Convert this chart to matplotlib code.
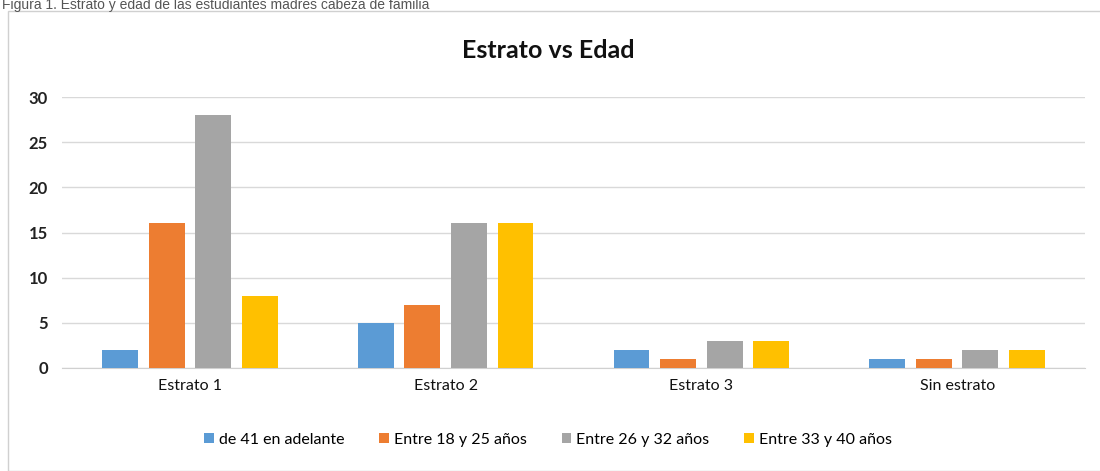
import numpy as np
import matplotlib.pyplot as plt
from matplotlib.patches import Rectangle

# Data
categories = ['Estrato 1', 'Estrato 2', 'Estrato 3', 'Sin estrato']
series_names = ['de 41 en adelante', 'Entre 18 y 25 años',
                'Entre 26 y 32 años', 'Entre 33 y 40 años']
de_41 = [2, 5, 2, 1]
entre_18_25 = [16, 7, 1, 1]
entre_26_32 = [28, 16, 3, 2]
entre_33_40 = [8, 16, 3, 2]
y_ticks = [0, 5, 10, 15, 20, 25, 30]

colors = ['#5B9BD5', '#ED7D31', '#A5A5A5', '#FFC000']
plt.rcParams['font.family'] = ['Lato', 'DejaVu Sans']

fig = plt.figure(figsize=(11, 4.71), dpi=100)
ax = fig.add_axes([62 / 1100, 1 - 368 / 471, 1023 / 1100, (368 - 97) / 471])

# Chart frame and caption
fig.patches.append(Rectangle((8 / 1100, 0), 1.1, 1 - 11 / 471, transform=fig.transFigure,
                             fill=False, edgecolor='#D0D0D0', lw=1))
fig.text(2 / 1100, 1 - 5 / 471, 'Figura 1. Estrato y edad de las estudiantes madres cabeza de familia',
         fontsize=10, color='#555555', family=['Liberation Sans', 'DejaVu Sans'],
         ha='left', va='center')

x = np.arange(len(categories))
width = 0.14
step = 0.182
all_series = [de_41, entre_18_25, entre_26_32, entre_33_40]
for i, (vals, name) in enumerate(zip(all_series, series_names)):
    ax.bar(x + (i - 1.5) * step, vals, width, color=colors[i], label=name, zorder=3)

ax.set_xlim(-0.5, 3.5)
ax.set_ylim(0, 30)
ax.set_yticks(y_ticks)
ax.set_yticklabels([str(t) for t in y_ticks], fontweight='bold', fontsize=12, color='#222222')
ax.set_xticks(x)
ax.set_xticklabels(categories, fontsize=11.5, color='#111111')
ax.tick_params(axis='both', length=0)
ax.tick_params(axis='y', pad=10)
ax.tick_params(axis='x', pad=8)
ax.grid(axis='y', color='#D9D9D9', lw=1, zorder=0)
for side in ['top', 'right', 'left']:
    ax.spines[side].set_visible(False)
ax.spines['bottom'].set_color('#D0D0D0')

fig.text(548 / 1100, 1 - 50 / 471, 'Estrato vs Edad', fontsize=18, fontweight='bold',
         ha='center', va='center', color='#111111')

fig.legend(loc='center', bbox_to_anchor=(548 / 1100, 1 - 440 / 471), ncol=4, frameon=False,
           fontsize=11.5, handlelength=0.6, handleheight=0.6, handletextpad=0.3, columnspacing=2.2)

fig.savefig('out.png', dpi=100)
